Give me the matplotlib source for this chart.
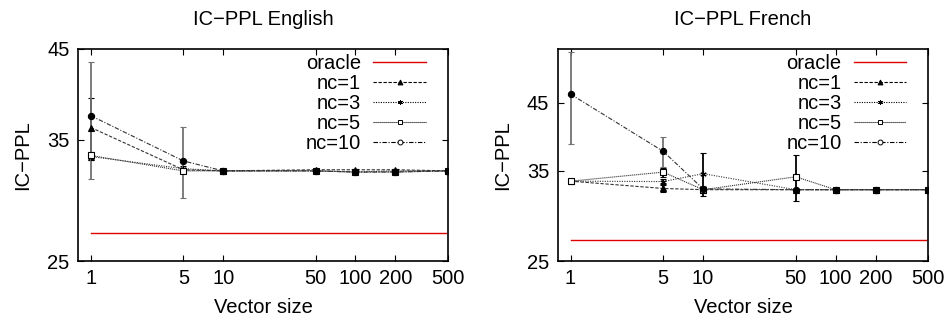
import matplotlib
matplotlib.use("Agg")
import matplotlib.pyplot as plt
from matplotlib.lines import Line2D
from matplotlib.ticker import FixedLocator, FixedFormatter, NullLocator

plt.rcParams['font.family'] = ['Liberation Sans', 'DejaVu Sans']

vector_sizes = [1, 5, 10, 50, 100, 200, 500]
x_tick_labels = ["1", "5", "10", "50", "100", "200", "500"]
series_names = ["nc=1", "nc=3", "nc=5", "nc=10"]

# English
en_oracle = [27.0, 27.0, 27.0, 27.0, 27.0, 27.0, 27.0]
en_nc1 = [36.2, 32.2, 32.1, 32.2, 32.2, 32.2, 32.1]
en_nc1_err = [3.1, 0.2, 0.1, 0.1, 0.1, 0.1, 0.1]
en_nc3 = [33.4, 32.3, 32.1, 32.1, 32.0, 32.1, 32.1]
en_nc3_err = [0.3, 0.2, 0.1, 0.1, 0.1, 0.1, 0.1]
en_nc5 = [33.5, 32.1, 32.1, 32.1, 32.0, 32.0, 32.1]
en_nc5_err = [0.3, 0.2, 0.1, 0.1, 0.1, 0.1, 0.1]
en_nc10 = [37.4, 33.0, 32.1, 32.1, 32.0, 32.0, 32.1]
en_nc10_err = [6.05, 3.25, 0.1, 0.1, 0.1, 0.1, 0.1]

# French
fr_oracle = [27.0, 27.0, 27.0, 27.0, 27.0, 27.0, 27.0]
fr_nc1 = [33.65, 32.75, 32.6, 32.6, 32.6, 32.6, 32.6]
fr_nc1_err = [0.2, 0.4, 0.2, 0.1, 0.1, 0.1, 0.1]
fr_nc3 = [33.65, 33.6, 34.6, 32.6, 32.6, 32.6, 32.6]
fr_nc3_err = [0.2, 0.3, 2.8, 0.1, 0.1, 0.1, 0.1]
fr_nc5 = [33.65, 34.8, 32.6, 34.2, 32.6, 32.6, 32.6]
fr_nc5_err = [0.2, 0.6, 0.2, 2.9, 0.1, 0.1, 0.1]
fr_nc10 = [46.5, 37.6, 32.7, 32.6, 32.6, 32.6, 32.6]
fr_nc10_err = [7.8, 2.1, 0.3, 0.1, 0.1, 0.1, 0.1]

styles = [
    dict(ls=(0, (3, 1.5)), marker='^', mfc='black', lmfc='black', ecolor='black'),
    dict(ls=(0, (1, 1.2)), marker=(6, 2, 0), mfc='black', lmfc='black', ecolor='black'),
    dict(ls=(0, (1, 0.8)), marker='s', mfc='white', lmfc='white', ecolor='black'),
    dict(ls=(0, (4, 1.5, 1, 1.5)), marker='o', mfc='black', lmfc='white', ecolor='0.45'),
]

fig = plt.figure(figsize=(9.46, 3.2), dpi=100)
ax1 = fig.add_axes([0.0825, 0.184, 0.391, 0.663])
ax2 = fig.add_axes([0.5895, 0.184, 0.3918, 0.663])

panels = [
    (ax1, "IC\u2212PPL English", en_oracle,
     [(en_nc1, en_nc1_err), (en_nc3, en_nc3_err), (en_nc5, en_nc5_err), (en_nc10, en_nc10_err)],
     (25, 45), [25, 35, 45]),
    (ax2, "IC\u2212PPL French", fr_oracle,
     [(fr_nc1, fr_nc1_err), (fr_nc3, fr_nc3_err), (fr_nc5, fr_nc5_err), (fr_nc10, fr_nc10_err)],
     (25, 55), [25, 35, 45]),
]

fs = 14.5
for ax, title, oracle, series, ylim, yticks in panels:
    ax.plot(vector_sizes, oracle, color='#e00000', lw=1.0)
    for name, (vals, errs), st in zip(series_names, series, styles):
        ax.errorbar(vector_sizes, vals, yerr=errs, color='0.2', lw=0.8,
                    ls=st['ls'], marker=st['marker'], ms=4.5, mfc=st['mfc'],
                    mec='black', mew=0.8, ecolor=st['ecolor'], elinewidth=1.3,
                    capsize=2.5, capthick=1.0)
    ax.set_xscale('log')
    ax.set_yscale('log')
    ax.set_xlim(0.8, 500)
    ax.set_ylim(*ylim)
    ax.xaxis.set_major_locator(FixedLocator(vector_sizes))
    ax.xaxis.set_major_formatter(FixedFormatter(x_tick_labels))
    ax.xaxis.set_minor_locator(NullLocator())
    ax.yaxis.set_major_locator(FixedLocator(yticks))
    ax.yaxis.set_major_formatter(FixedFormatter([str(t) for t in yticks]))
    ax.yaxis.set_minor_locator(NullLocator())
    ax.tick_params(direction='in', top=True, right=True, length=4, width=0.8,
                   labelsize=fs, pad=6)
    for s in ax.spines.values():
        s.set_linewidth(1.2)
    ax.set_title(title, fontsize=fs, pad=17)
    ax.set_xlabel("Vector size", fontsize=fs, labelpad=7)
    ax.set_ylabel("IC\u2212PPL", fontsize=fs, labelpad=11)

    handles = [Line2D([], [], color='#e00000', lw=1.0)]
    for st in styles:
        handles.append(Line2D([], [], color='black', lw=0.8, ls=st['ls'],
                              marker=st['marker'], ms=3.5, mfc=st['lmfc'],
                              mec='black', mew=0.7))
    ax.legend(handles, ["oracle"] + series_names, loc='upper right',
              bbox_to_anchor=(0.94, 0.975), frameon=False,
              markerfirst=False, fontsize=fs, handlelength=2.6,
              handletextpad=0.6, labelspacing=0.045, borderpad=0.0,
              borderaxespad=0.0)

fig.savefig("out.png", dpi=100)
